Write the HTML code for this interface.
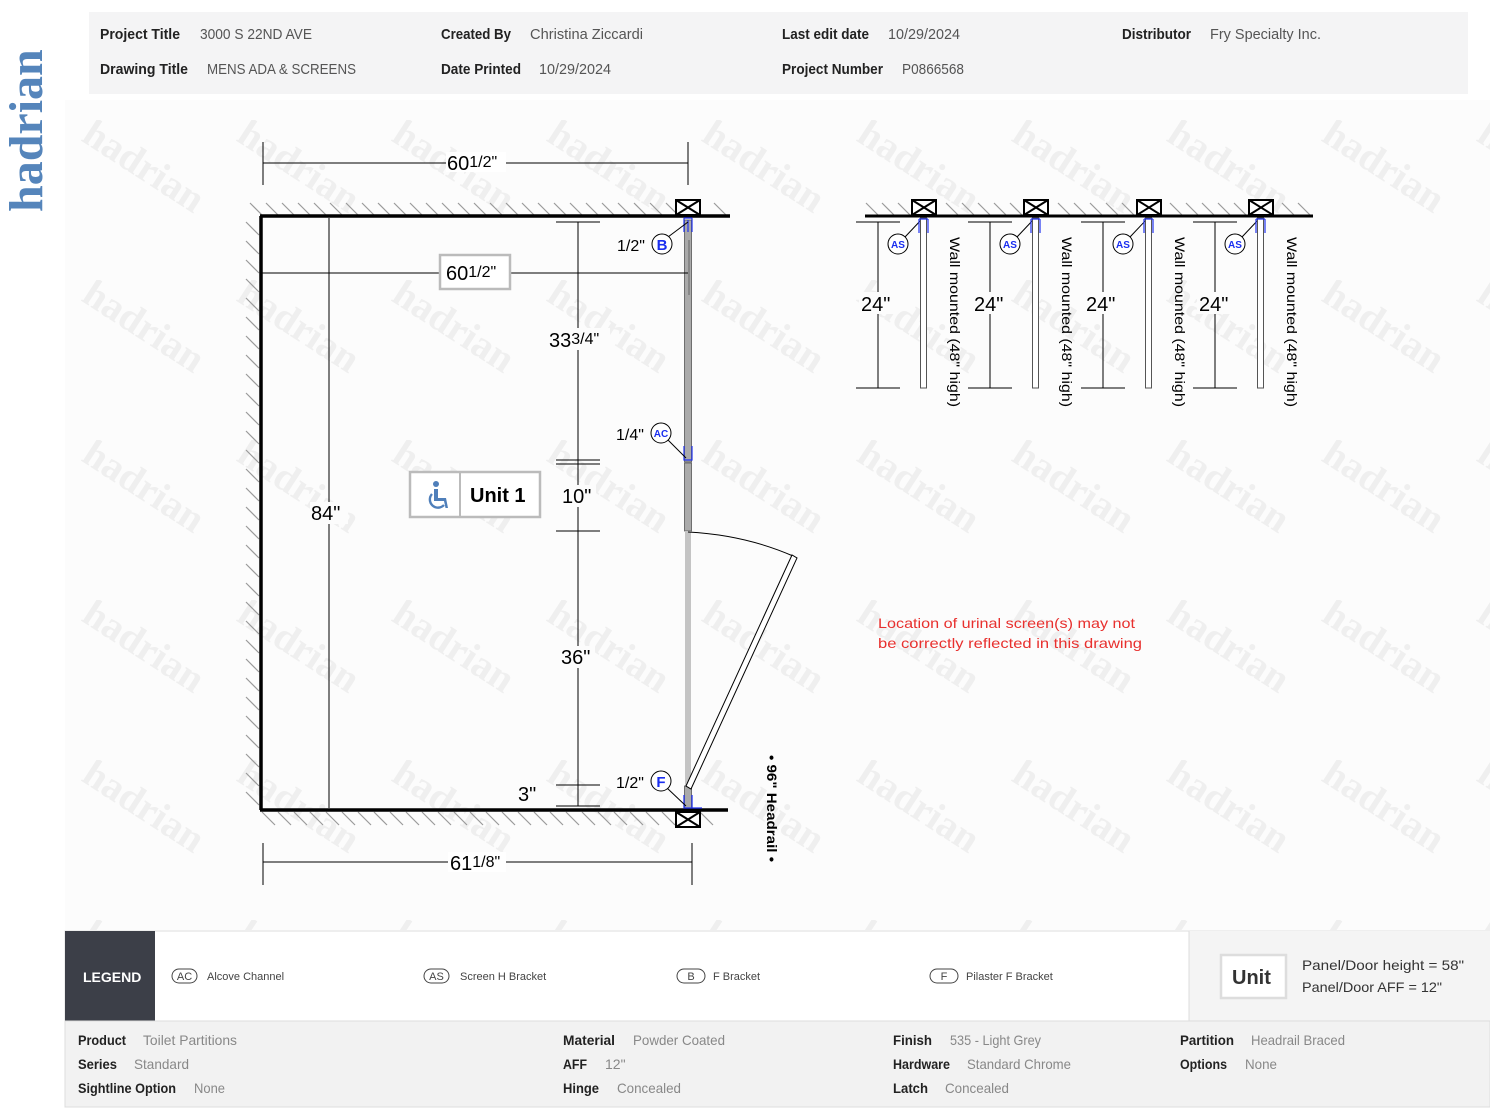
<!DOCTYPE html>
<html><head><meta charset="utf-8"><style>
html,body{margin:0;padding:0;background:#fff;width:1490px;height:1112px;overflow:hidden}
svg{display:block}
</style></head><body>
<svg width="1490" height="1112" viewBox="0 0 1490 1112" xmlns="http://www.w3.org/2000/svg" font-family="Liberation Sans, sans-serif">
<defs>
<pattern id="wm" x="75" y="120" width="155" height="160" patternUnits="userSpaceOnUse">
<text x="5" y="20" transform="rotate(33 5 20)" font-family="Liberation Serif, serif" font-weight="bold" font-size="40" fill="#efefef">hadrian</text>
</pattern>
</defs>
<rect width="1490" height="1112" fill="#fff"/>
<rect x="65" y="100" width="1425" height="830" fill="#fcfcfc"/>
<rect x="65" y="110" width="1425" height="820" fill="url(#wm)"/>
<text transform="translate(42,212) rotate(-90)" font-family="Liberation Serif, serif" font-weight="bold" font-size="48" fill="#5585bb">hadrian</text>
<rect x="89" y="12" width="1379" height="82" fill="#f4f4f5"/>
<g font-size="15" fill="#222">
<text x="100" y="39" font-weight="bold" textLength="80" lengthAdjust="spacingAndGlyphs">Project Title</text>
<text x="200" y="39" fill="#555" textLength="112" lengthAdjust="spacingAndGlyphs">3000 S 22ND AVE</text>
<text x="100" y="74" font-weight="bold" textLength="88" lengthAdjust="spacingAndGlyphs">Drawing Title</text>
<text x="207" y="74" fill="#555" textLength="149" lengthAdjust="spacingAndGlyphs">MENS ADA &amp; SCREENS</text>
<text x="441" y="39" font-weight="bold" textLength="70" lengthAdjust="spacingAndGlyphs">Created By</text>
<text x="530" y="39" fill="#555" textLength="113" lengthAdjust="spacingAndGlyphs">Christina Ziccardi</text>
<text x="441" y="74" font-weight="bold" textLength="80" lengthAdjust="spacingAndGlyphs">Date Printed</text>
<text x="539" y="74" fill="#555" textLength="72" lengthAdjust="spacingAndGlyphs">10/29/2024</text>
<text x="782" y="39" font-weight="bold" textLength="87" lengthAdjust="spacingAndGlyphs">Last edit date</text>
<text x="888" y="39" fill="#555" textLength="72" lengthAdjust="spacingAndGlyphs">10/29/2024</text>
<text x="782" y="74" font-weight="bold" textLength="101" lengthAdjust="spacingAndGlyphs">Project Number</text>
<text x="902" y="74" fill="#555" textLength="62" lengthAdjust="spacingAndGlyphs">P0866568</text>
<text x="1122" y="39" font-weight="bold" textLength="69" lengthAdjust="spacingAndGlyphs">Distributor</text>
<text x="1210" y="39" fill="#555" textLength="111" lengthAdjust="spacingAndGlyphs">Fry Specialty Inc.</text>
</g>
<!-- hatching -->
<g stroke="#9a9a9a" stroke-width="1.2" fill="none">
<path d="M250 203l13 13M266 203l13 13M282 203l13 13M298 203l13 13M314 203l13 13M330 203l13 13M346 203l13 13M362 203l13 13M378 203l13 13M394 203l13 13M410 203l13 13M426 203l13 13M442 203l13 13M458 203l13 13M474 203l13 13M490 203l13 13M506 203l13 13M522 203l13 13M538 203l13 13M554 203l13 13M570 203l13 13M586 203l13 13M602 203l13 13M618 203l13 13M634 203l13 13M650 203l13 13M666 203l13 13M714 203l13 13"/>
<path d="M262 812l13 13M278 812l13 13M294 812l13 13M310 812l13 13M326 812l13 13M342 812l13 13M358 812l13 13M374 812l13 13M390 812l13 13M406 812l13 13M422 812l13 13M438 812l13 13M454 812l13 13M470 812l13 13M486 812l13 13M502 812l13 13M518 812l13 13M534 812l13 13M550 812l13 13M566 812l13 13M582 812l13 13M598 812l13 13M614 812l13 13M630 812l13 13M646 812l13 13M662 812l13 13M700 812l13 13"/>
<path d="M246 222l13 13M246 241l13 13M246 260l13 13M246 279l13 13M246 298l13 13M246 317l13 13M246 336l13 13M246 355l13 13M246 374l13 13M246 393l13 13M246 412l13 13M246 431l13 13M246 450l13 13M246 469l13 13M246 488l13 13M246 507l13 13M246 526l13 13M246 545l13 13M246 564l13 13M246 583l13 13M246 602l13 13M246 621l13 13M246 640l13 13M246 659l13 13M246 678l13 13M246 697l13 13M246 716l13 13M246 735l13 13M246 754l13 13M246 773l13 13M246 792l13 13"/>
<path d="M866 203l13 13M882 203l13 13M898 203l13 13M946 203l13 13M962 203l13 13M978 203l13 13M994 203l13 13M1010 203l13 13M1058 203l13 13M1074 203l13 13M1090 203l13 13M1106 203l13 13M1122 203l13 13M1170 203l13 13M1186 203l13 13M1202 203l13 13M1218 203l13 13M1234 203l13 13M1282 203l13 13M1298 203l13 13"/>
</g>
<g stroke="#000" fill="none">
<path d="M260 216 H730 M261 216 V810 M260 810 H728" stroke-width="3.5"/>
<path d="M865 216 H1313" stroke-width="3"/>
</g>
<g stroke="#000" stroke-width="2" fill="#fff">
<rect x="676" y="200" width="24" height="15"/><path d="M676 200 L700 215 M700 200 L676 215" fill="none"/>
<rect x="676" y="812" width="24" height="15"/><path d="M676 812 L700 827 M700 812 L676 827" fill="none"/>
<rect x="912" y="200" width="24" height="15"/><path d="M912 200 L936 215 M936 200 L912 215" fill="none"/>
<rect x="1024" y="200" width="24" height="15"/><path d="M1024 200 L1048 215 M1048 200 L1024 215" fill="none"/>
<rect x="1137" y="200" width="24" height="15"/><path d="M1137 200 L1161 215 M1161 200 L1137 215" fill="none"/>
<rect x="1249" y="200" width="24" height="15"/><path d="M1249 200 L1273 215 M1273 200 L1249 215" fill="none"/>
</g>
<rect x="684.5" y="220" width="7" height="242" fill="#aaa" stroke="#555" stroke-width="0.8"/>
<line x1="689" y1="240" x2="689" y2="295" stroke="#555" stroke-width="0.8"/>
<rect x="684.5" y="463" width="7" height="68" fill="#aaa" stroke="#555" stroke-width="0.8"/>
<rect x="685" y="531" width="6" height="255" fill="#c4c4c4"/>
<rect x="684.5" y="786" width="7" height="22" fill="#aaa" stroke="#555" stroke-width="0.8"/>
<path d="M688 220 V232 M684 218 H692 M684 218 V232 M692 218 V232" stroke="#2233ee" stroke-width="1.2" fill="none"/>
<path d="M684 446 V460 H692 V446" stroke="#2233ee" stroke-width="1.2" fill="none"/>
<path d="M684 795 V808 H702 M692 795 V808" stroke="#2233ee" stroke-width="1.3" fill="none"/>
<path d="M688 532 Q745 535 793 556" stroke="#000" stroke-width="1" fill="none"/>
<path d="M686 786 L792 555 L797 558 L691 789 Z" fill="#fff" stroke="#000" stroke-width="1"/>
<g stroke="#000" stroke-width="1" fill="none">
<path d="M263 163 H688 M263 142 V185 M688 142 V185"/>
<path d="M260 273 H688"/>
<path d="M329 218 V808"/>
<path d="M578 222 V806 M556 222 H600 M556 460 H600 M556 464 H600 M556 531 H600 M556 785 H600 M556 806 H600"/>
<path d="M263 862 H692 M263 843 V885 M692 843 V885"/>
<path d="M878 222 V388 M856 222 H900 M856 388 H900"/>
<path d="M990 222 V388 M968 222 H1012 M968 388 H1012"/>
<path d="M1103 222 V388 M1081 222 H1125 M1081 388 H1125"/>
<path d="M1215 222 V388 M1193 222 H1237 M1193 388 H1237"/>
</g>
<g font-size="20" fill="#000">
<rect x="446" y="152" width="60" height="20" fill="#fff"/>
<text x="447" y="170">60<tspan font-size="16" dy="-3">1/2"</tspan></text>
<rect x="440" y="255" width="70" height="34" fill="#fff" stroke="#bbb" stroke-width="2.5"/>
<text x="446" y="280">60<tspan font-size="16" dy="-3">1/2"</tspan></text>
<rect x="548" y="328" width="62" height="22" fill="#fcfcfc"/>
<text x="549" y="347">33<tspan font-size="16" dy="-3">3/4"</tspan></text>
<rect x="310" y="502" width="38" height="22" fill="#fcfcfc"/>
<text x="311" y="520">84"</text>
<rect x="560" y="485" width="36" height="22" fill="#fcfcfc"/>
<text x="562" y="503">10"</text>
<rect x="559" y="646" width="36" height="22" fill="#fcfcfc"/>
<text x="561" y="664">36"</text>
<text x="518" y="801">3"</text>
<rect x="448" y="852" width="58" height="20" fill="#fff"/>
<text x="450" y="870">61<tspan font-size="16" dy="-3">1/8"</tspan></text>
<rect x="859" y="292" width="38" height="22" fill="#fcfcfc"/><text x="861" y="311">24"</text>
<rect x="972" y="292" width="38" height="22" fill="#fcfcfc"/><text x="974" y="311">24"</text>
<rect x="1084" y="292" width="38" height="22" fill="#fcfcfc"/><text x="1086" y="311">24"</text>
<rect x="1197" y="292" width="38" height="22" fill="#fcfcfc"/><text x="1199" y="311">24"</text>
</g>
<rect x="410" y="472" width="130" height="45" fill="#fff" stroke="#bbb" stroke-width="2.5"/>
<line x1="460" y1="473" x2="460" y2="516" stroke="#bbb" stroke-width="2"/>
<g fill="#4f7fba">
<circle cx="436" cy="484" r="3"/>
<path d="M434 489 H438 V498 H446 L448 508 H445.5 L444 501 H434 Z"/>
<path d="M432 494 A8 8 0 1 0 444 505" stroke="#4f7fba" stroke-width="2.4" fill="none"/>
</g>
<text x="470" y="502" font-size="20" font-weight="bold">Unit 1</text>
<g font-size="16" fill="#000">
<text x="617" y="251">1/2"</text>
<text x="616" y="440">1/4"</text>
<text x="616" y="788">1/2"</text>
</g>
<g stroke="#000" stroke-width="1" fill="#fff">
<line x1="668" y1="237" x2="688" y2="222"/>
<line x1="668" y1="440" x2="686" y2="458"/>
<line x1="667" y1="788" x2="686" y2="806"/>
<circle cx="662" cy="244" r="10"/>
<circle cx="661" cy="433" r="10"/>
<circle cx="661" cy="781" r="10"/>
<line x1="905" y1="237" x2="922" y2="219"/>
<line x1="1017" y1="237" x2="1034" y2="219"/>
<line x1="1130" y1="237" x2="1147" y2="219"/>
<line x1="1242" y1="237" x2="1259" y2="219"/>
<circle cx="898" cy="244" r="10"/>
<circle cx="1010" cy="244" r="10"/>
<circle cx="1123" cy="244" r="10"/>
<circle cx="1235" cy="244" r="10"/>
</g>
<g fill="#1a2ef0" text-anchor="middle" font-weight="bold">
<text x="662" y="250" font-size="15">B</text>
<text x="661" y="437" font-size="10">AC</text>
<text x="661" y="787" font-size="15">F</text>
<text x="898" y="248" font-size="10">AS</text>
<text x="1010" y="248" font-size="10">AS</text>
<text x="1123" y="248" font-size="10">AS</text>
<text x="1235" y="248" font-size="10">AS</text>
</g>
<g fill="#fff" stroke="#555" stroke-width="1">
<rect x="920.5" y="218" width="6" height="170"/>
<rect x="1032.5" y="218" width="6" height="170"/>
<rect x="1145.5" y="218" width="6" height="170"/>
<rect x="1257.5" y="218" width="6" height="170"/>
</g>
<g stroke="#2233ee" stroke-width="1.2" fill="none">
<path d="M919 219 V233 M928 219 V233 M919 219 H928"/>
<path d="M1031 219 V233 M1040 219 V233 M1031 219 H1040"/>
<path d="M1144 219 V233 M1153 219 V233 M1144 219 H1153"/>
<path d="M1256 219 V233 M1265 219 V233 M1256 219 H1265"/>
</g>
<g font-size="14" fill="#000">
<text transform="translate(950,237) rotate(90)" textLength="170" lengthAdjust="spacingAndGlyphs">Wall mounted (48" high)</text>
<text transform="translate(1062,237) rotate(90)" textLength="170" lengthAdjust="spacingAndGlyphs">Wall mounted (48" high)</text>
<text transform="translate(1175,237) rotate(90)" textLength="170" lengthAdjust="spacingAndGlyphs">Wall mounted (48" high)</text>
<text transform="translate(1287,237) rotate(90)" textLength="170" lengthAdjust="spacingAndGlyphs">Wall mounted (48" high)</text>
<text transform="translate(767,755) rotate(90)" font-weight="bold" textLength="107" lengthAdjust="spacingAndGlyphs">• 96" Headrail •</text>
</g>
<g font-size="14" fill="#e8302e">
<text x="878" y="628" textLength="257" lengthAdjust="spacingAndGlyphs">Location of urinal screen(s) may not</text>
<text x="878" y="648" textLength="264" lengthAdjust="spacingAndGlyphs">be correctly reflected in this drawing</text>
</g>
<rect x="65" y="931" width="1425" height="90" fill="#fff" stroke="#ddd"/>
<rect x="65" y="931" width="90" height="90" fill="#3c3f48"/>
<text x="83" y="982" font-size="14" font-weight="bold" fill="#fff">LEGEND</text>
<rect x="1189" y="931" width="301" height="90" fill="#f4f4f4"/>
<line x1="1189" y1="931" x2="1189" y2="1021" stroke="#ddd"/>
<rect x="1221" y="955" width="65" height="43" fill="#fff" stroke="#ddd" stroke-width="2.5"/>
<text x="1232" y="984" font-size="20" font-weight="bold" fill="#333">Unit</text>
<text x="1302" y="970" font-size="14" fill="#333" textLength="162" lengthAdjust="spacingAndGlyphs">Panel/Door height = 58"</text>
<text x="1302" y="992" font-size="14" fill="#333" textLength="140" lengthAdjust="spacingAndGlyphs">Panel/Door AFF = 12"</text>
<g font-size="11" fill="#444">
<rect x="172" y="969" width="25" height="14" rx="7" fill="none" stroke="#444"/><text x="184.5" y="980" text-anchor="middle">AC</text>
<text x="207" y="980">Alcove Channel</text>
<rect x="424" y="969" width="25" height="14" rx="7" fill="none" stroke="#444"/><text x="436.5" y="980" text-anchor="middle">AS</text>
<text x="460" y="980">Screen H Bracket</text>
<rect x="677" y="969" width="28" height="14" rx="7" fill="none" stroke="#444"/><text x="691" y="980" text-anchor="middle">B</text>
<text x="713" y="980">F Bracket</text>
<rect x="930" y="969" width="28" height="14" rx="7" fill="none" stroke="#444"/><text x="944" y="980" text-anchor="middle">F</text>
<text x="966" y="980">Pilaster F Bracket</text>
</g>
<rect x="65" y="1021" width="1425" height="86" fill="#f2f2f2" stroke="#ddd"/>
<g font-size="14">
<text x="78" y="1045" font-weight="bold" fill="#222" textLength="48" lengthAdjust="spacingAndGlyphs">Product</text>
<text x="143" y="1045" fill="#888" textLength="94" lengthAdjust="spacingAndGlyphs">Toilet Partitions</text>
<text x="78" y="1069" font-weight="bold" fill="#222" textLength="39" lengthAdjust="spacingAndGlyphs">Series</text>
<text x="134" y="1069" fill="#888" textLength="55" lengthAdjust="spacingAndGlyphs">Standard</text>
<text x="78" y="1093" font-weight="bold" fill="#222" textLength="98" lengthAdjust="spacingAndGlyphs">Sightline Option</text>
<text x="194" y="1093" fill="#888" textLength="31" lengthAdjust="spacingAndGlyphs">None</text>
<text x="563" y="1045" font-weight="bold" fill="#222" textLength="52" lengthAdjust="spacingAndGlyphs">Material</text>
<text x="633" y="1045" fill="#888" textLength="92" lengthAdjust="spacingAndGlyphs">Powder Coated</text>
<text x="563" y="1069" font-weight="bold" fill="#222" textLength="24" lengthAdjust="spacingAndGlyphs">AFF</text>
<text x="605" y="1069" fill="#888">12"</text>
<text x="563" y="1093" font-weight="bold" fill="#222" textLength="36" lengthAdjust="spacingAndGlyphs">Hinge</text>
<text x="617" y="1093" fill="#888" textLength="64" lengthAdjust="spacingAndGlyphs">Concealed</text>
<text x="893" y="1045" font-weight="bold" fill="#222" textLength="39" lengthAdjust="spacingAndGlyphs">Finish</text>
<text x="950" y="1045" fill="#888" textLength="91" lengthAdjust="spacingAndGlyphs">535 - Light Grey</text>
<text x="893" y="1069" font-weight="bold" fill="#222" textLength="57" lengthAdjust="spacingAndGlyphs">Hardware</text>
<text x="967" y="1069" fill="#888" textLength="104" lengthAdjust="spacingAndGlyphs">Standard Chrome</text>
<text x="893" y="1093" font-weight="bold" fill="#222" textLength="35" lengthAdjust="spacingAndGlyphs">Latch</text>
<text x="945" y="1093" fill="#888" textLength="64" lengthAdjust="spacingAndGlyphs">Concealed</text>
<text x="1180" y="1045" font-weight="bold" fill="#222" textLength="54" lengthAdjust="spacingAndGlyphs">Partition</text>
<text x="1251" y="1045" fill="#888" textLength="94" lengthAdjust="spacingAndGlyphs">Headrail Braced</text>
<text x="1180" y="1069" font-weight="bold" fill="#222" textLength="47" lengthAdjust="spacingAndGlyphs">Options</text>
<text x="1245" y="1069" fill="#888" textLength="32" lengthAdjust="spacingAndGlyphs">None</text>
</g>
</svg>
</body></html>
